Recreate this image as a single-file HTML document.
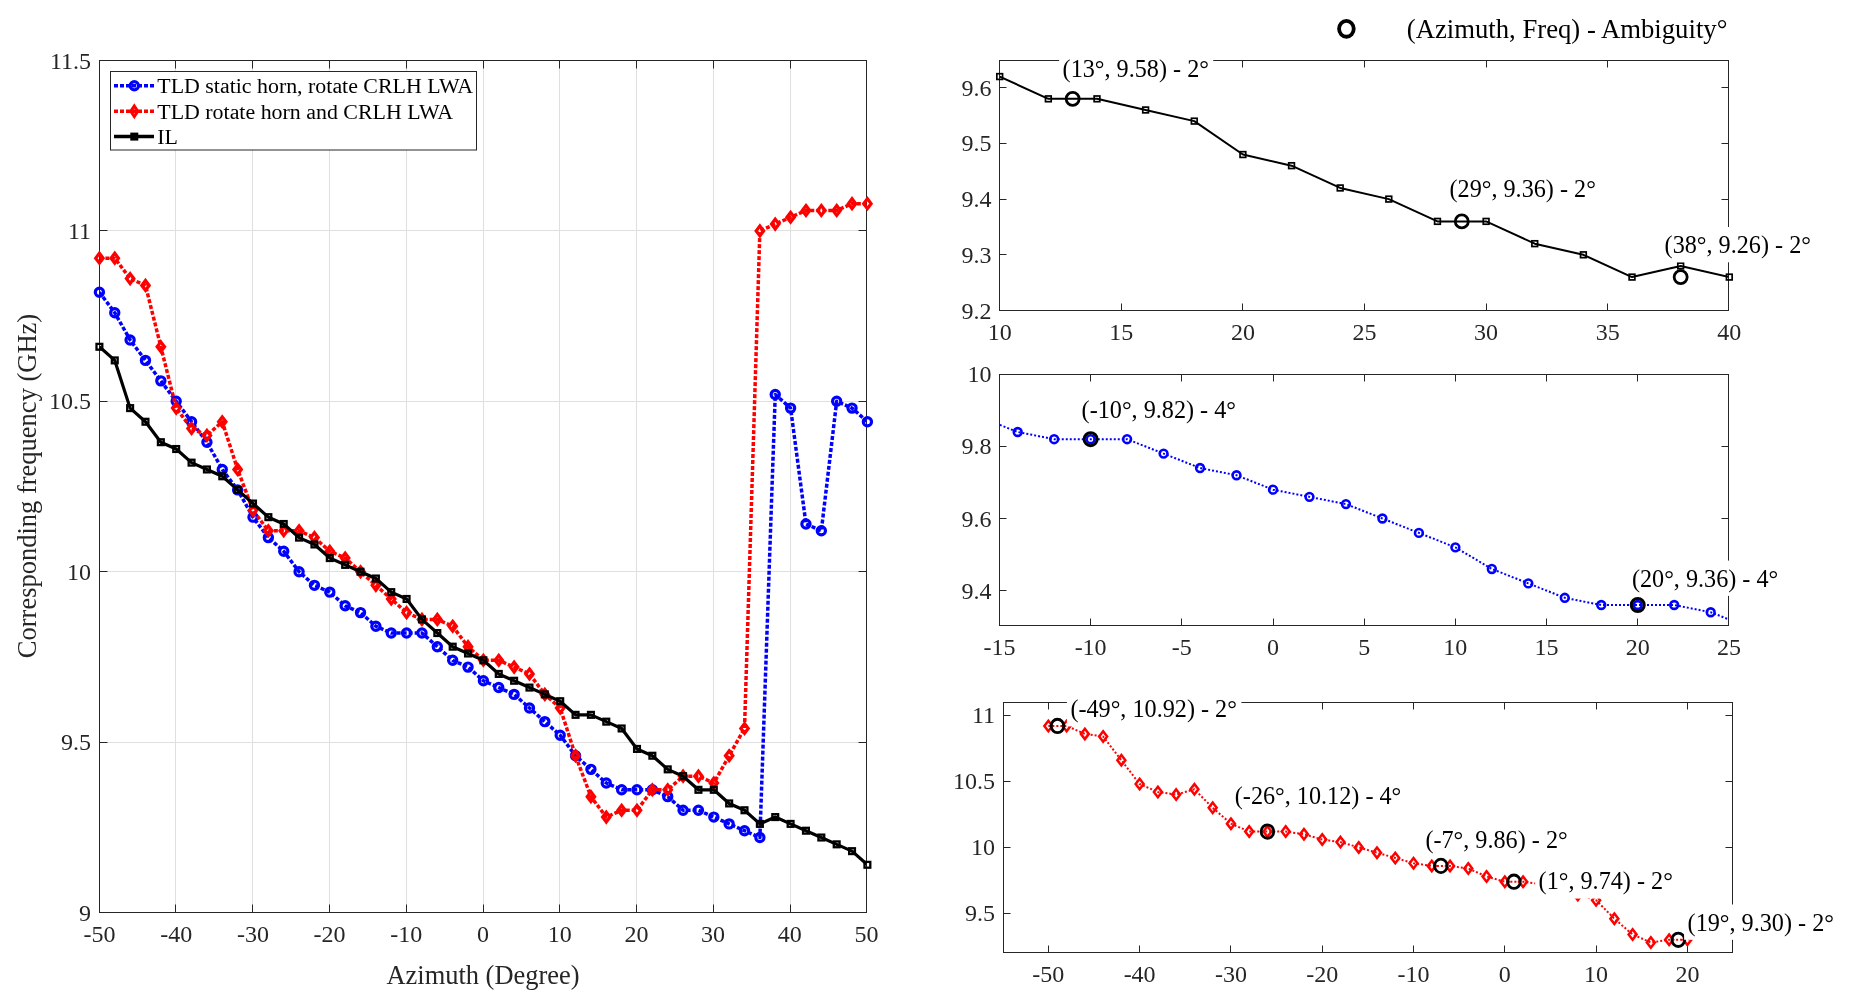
<!DOCTYPE html><html><head><meta charset="utf-8"><style>html,body{margin:0;padding:0;background:#fff;overflow:hidden}svg{display:block;will-change:transform}text{font-family:'Liberation Serif',serif}</style></head><body>
<svg width="1851" height="1008" viewBox="0 0 1851 1008">
<rect width="1851" height="1008" fill="#fff"/>
<defs><clipPath id="cm"><rect x="99.5" y="60.5" width="767.0" height="852.0"/></clipPath>
<clipPath id="ca"><rect x="999.5" y="60.5" width="729.0" height="250.0"/></clipPath>
<clipPath id="cb"><rect x="999.5" y="374.5" width="729.0" height="251.0"/></clipPath>
<clipPath id="cc"><rect x="1003.5" y="702.5" width="729.0" height="250.0"/></clipPath>
</defs>
<path d="M175.5 60.50V912.50M252.5 60.50V912.50M329.5 60.50V912.50M406.5 60.50V912.50M483.5 60.50V912.50M559.5 60.50V912.50M636.5 60.50V912.50M713.5 60.50V912.50M790.5 60.50V912.50M99.50 742.5H866.50M99.50 571.5H866.50M99.50 401.5H866.50M99.50 230.5H866.50" stroke="#dfdfdf" stroke-width="1" fill="none"/>
<path d="M99.50 912.50V904.50M99.50 60.50V68.50M175.50 912.50V904.50M175.50 60.50V68.50M252.50 912.50V904.50M252.50 60.50V68.50M329.50 912.50V904.50M329.50 60.50V68.50M406.50 912.50V904.50M406.50 60.50V68.50M483.50 912.50V904.50M483.50 60.50V68.50M559.50 912.50V904.50M559.50 60.50V68.50M636.50 912.50V904.50M636.50 60.50V68.50M713.50 912.50V904.50M713.50 60.50V68.50M790.50 912.50V904.50M790.50 60.50V68.50M866.50 912.50V904.50M866.50 60.50V68.50M99.50 912.50H107.50M866.50 912.50H858.50M99.50 742.50H107.50M866.50 742.50H858.50M99.50 571.50H107.50M866.50 571.50H858.50M99.50 401.50H107.50M866.50 401.50H858.50M99.50 230.50H107.50M866.50 230.50H858.50M99.50 60.50H107.50M866.50 60.50H858.50" stroke="#262626" stroke-width="1" fill="none"/>
<rect x="99.50" y="60.50" width="767.00" height="852.00" fill="none" stroke="#262626" stroke-width="1"/>
<polyline points="99.40,292.24 114.76,312.69 130.12,339.96 145.48,360.40 160.84,380.85 176.20,401.30 191.56,421.75 206.92,442.20 222.28,469.46 237.64,489.91 253.00,517.17 268.36,537.62 283.72,551.25 299.08,571.70 314.44,585.33 329.80,592.15 345.16,605.78 360.52,612.60 375.88,626.23 391.24,633.04 406.60,633.04 421.96,633.04 437.32,646.68 452.68,660.31 468.04,667.12 483.40,680.76 498.76,687.57 514.12,694.39 529.48,708.02 544.84,721.65 560.20,735.28 575.56,755.73 590.92,769.36 606.28,783.00 621.64,789.81 637.00,789.81 652.36,789.81 667.72,796.63 683.08,810.26 698.44,810.26 713.80,817.08 729.16,823.89 744.52,830.71 759.88,837.52 775.24,394.48 790.60,408.12 805.96,523.99 821.32,530.80 836.68,401.30 852.04,408.12 867.40,421.75" fill="none" stroke="#0000ff" stroke-width="3.5" stroke-linejoin="round" stroke-dasharray="4 2" clip-path="url(#cm)"/>
<g fill="none" stroke="#0000ff" stroke-width="3.2">
<circle cx="99.40" cy="292.24" r="4.1"/>
<circle cx="114.76" cy="312.69" r="4.1"/>
<circle cx="130.12" cy="339.96" r="4.1"/>
<circle cx="145.48" cy="360.40" r="4.1"/>
<circle cx="160.84" cy="380.85" r="4.1"/>
<circle cx="176.20" cy="401.30" r="4.1"/>
<circle cx="191.56" cy="421.75" r="4.1"/>
<circle cx="206.92" cy="442.20" r="4.1"/>
<circle cx="222.28" cy="469.46" r="4.1"/>
<circle cx="237.64" cy="489.91" r="4.1"/>
<circle cx="253.00" cy="517.17" r="4.1"/>
<circle cx="268.36" cy="537.62" r="4.1"/>
<circle cx="283.72" cy="551.25" r="4.1"/>
<circle cx="299.08" cy="571.70" r="4.1"/>
<circle cx="314.44" cy="585.33" r="4.1"/>
<circle cx="329.80" cy="592.15" r="4.1"/>
<circle cx="345.16" cy="605.78" r="4.1"/>
<circle cx="360.52" cy="612.60" r="4.1"/>
<circle cx="375.88" cy="626.23" r="4.1"/>
<circle cx="391.24" cy="633.04" r="4.1"/>
<circle cx="406.60" cy="633.04" r="4.1"/>
<circle cx="421.96" cy="633.04" r="4.1"/>
<circle cx="437.32" cy="646.68" r="4.1"/>
<circle cx="452.68" cy="660.31" r="4.1"/>
<circle cx="468.04" cy="667.12" r="4.1"/>
<circle cx="483.40" cy="680.76" r="4.1"/>
<circle cx="498.76" cy="687.57" r="4.1"/>
<circle cx="514.12" cy="694.39" r="4.1"/>
<circle cx="529.48" cy="708.02" r="4.1"/>
<circle cx="544.84" cy="721.65" r="4.1"/>
<circle cx="560.20" cy="735.28" r="4.1"/>
<circle cx="575.56" cy="755.73" r="4.1"/>
<circle cx="590.92" cy="769.36" r="4.1"/>
<circle cx="606.28" cy="783.00" r="4.1"/>
<circle cx="621.64" cy="789.81" r="4.1"/>
<circle cx="637.00" cy="789.81" r="4.1"/>
<circle cx="652.36" cy="789.81" r="4.1"/>
<circle cx="667.72" cy="796.63" r="4.1"/>
<circle cx="683.08" cy="810.26" r="4.1"/>
<circle cx="698.44" cy="810.26" r="4.1"/>
<circle cx="713.80" cy="817.08" r="4.1"/>
<circle cx="729.16" cy="823.89" r="4.1"/>
<circle cx="744.52" cy="830.71" r="4.1"/>
<circle cx="759.88" cy="837.52" r="4.1"/>
<circle cx="775.24" cy="394.48" r="4.1"/>
<circle cx="790.60" cy="408.12" r="4.1"/>
<circle cx="805.96" cy="523.99" r="4.1"/>
<circle cx="821.32" cy="530.80" r="4.1"/>
<circle cx="836.68" cy="401.30" r="4.1"/>
<circle cx="852.04" cy="408.12" r="4.1"/>
<circle cx="867.40" cy="421.75" r="4.1"/>
</g>
<polyline points="99.40,258.16 114.76,258.16 130.12,278.61 145.48,285.43 160.84,346.77 176.20,408.12 191.56,428.56 206.92,435.38 222.28,421.75 237.64,469.46 253.00,510.36 268.36,530.80 283.72,530.80 299.08,530.80 314.44,537.62 329.80,551.25 345.16,558.07 360.52,571.70 375.88,585.33 391.24,598.96 406.60,612.60 421.96,619.41 437.32,619.41 452.68,626.23 468.04,646.68 483.40,660.31 498.76,660.31 514.12,667.12 529.48,673.94 544.84,694.39 560.20,708.02 575.56,755.73 590.92,796.63 606.28,817.08 621.64,810.26 637.00,810.26 652.36,789.81 667.72,789.81 683.08,776.18 698.44,776.18 713.80,783.00 729.16,755.73 744.52,728.47 759.88,230.90 775.24,224.08 790.60,217.27 805.96,210.45 821.32,210.45 836.68,210.45 852.04,203.64 867.40,203.64" fill="none" stroke="#ff0000" stroke-width="3.5" stroke-linejoin="round" stroke-dasharray="4 2" clip-path="url(#cm)"/>
<g fill="none" stroke="#ff0000" stroke-width="3.2">
<path d="M99.40 253.26L103.10 258.16L99.40 263.06L95.70 258.16Z" stroke-linejoin="miter"/>
<path d="M114.76 253.26L118.46 258.16L114.76 263.06L111.06 258.16Z" stroke-linejoin="miter"/>
<path d="M130.12 273.71L133.82 278.61L130.12 283.51L126.42 278.61Z" stroke-linejoin="miter"/>
<path d="M145.48 280.53L149.18 285.43L145.48 290.33L141.78 285.43Z" stroke-linejoin="miter"/>
<path d="M160.84 341.87L164.54 346.77L160.84 351.67L157.14 346.77Z" stroke-linejoin="miter"/>
<path d="M176.20 403.22L179.90 408.12L176.20 413.02L172.50 408.12Z" stroke-linejoin="miter"/>
<path d="M191.56 423.66L195.26 428.56L191.56 433.46L187.86 428.56Z" stroke-linejoin="miter"/>
<path d="M206.92 430.48L210.62 435.38L206.92 440.28L203.22 435.38Z" stroke-linejoin="miter"/>
<path d="M222.28 416.85L225.98 421.75L222.28 426.65L218.58 421.75Z" stroke-linejoin="miter"/>
<path d="M237.64 464.56L241.34 469.46L237.64 474.36L233.94 469.46Z" stroke-linejoin="miter"/>
<path d="M253.00 505.46L256.70 510.36L253.00 515.26L249.30 510.36Z" stroke-linejoin="miter"/>
<path d="M268.36 525.90L272.06 530.80L268.36 535.70L264.66 530.80Z" stroke-linejoin="miter"/>
<path d="M283.72 525.90L287.42 530.80L283.72 535.70L280.02 530.80Z" stroke-linejoin="miter"/>
<path d="M299.08 525.90L302.78 530.80L299.08 535.70L295.38 530.80Z" stroke-linejoin="miter"/>
<path d="M314.44 532.72L318.14 537.62L314.44 542.52L310.74 537.62Z" stroke-linejoin="miter"/>
<path d="M329.80 546.35L333.50 551.25L329.80 556.15L326.10 551.25Z" stroke-linejoin="miter"/>
<path d="M345.16 553.17L348.86 558.07L345.16 562.97L341.46 558.07Z" stroke-linejoin="miter"/>
<path d="M360.52 566.80L364.22 571.70L360.52 576.60L356.82 571.70Z" stroke-linejoin="miter"/>
<path d="M375.88 580.43L379.58 585.33L375.88 590.23L372.18 585.33Z" stroke-linejoin="miter"/>
<path d="M391.24 594.06L394.94 598.96L391.24 603.86L387.54 598.96Z" stroke-linejoin="miter"/>
<path d="M406.60 607.70L410.30 612.60L406.60 617.50L402.90 612.60Z" stroke-linejoin="miter"/>
<path d="M421.96 614.51L425.66 619.41L421.96 624.31L418.26 619.41Z" stroke-linejoin="miter"/>
<path d="M437.32 614.51L441.02 619.41L437.32 624.31L433.62 619.41Z" stroke-linejoin="miter"/>
<path d="M452.68 621.33L456.38 626.23L452.68 631.13L448.98 626.23Z" stroke-linejoin="miter"/>
<path d="M468.04 641.78L471.74 646.68L468.04 651.58L464.34 646.68Z" stroke-linejoin="miter"/>
<path d="M483.40 655.41L487.10 660.31L483.40 665.21L479.70 660.31Z" stroke-linejoin="miter"/>
<path d="M498.76 655.41L502.46 660.31L498.76 665.21L495.06 660.31Z" stroke-linejoin="miter"/>
<path d="M514.12 662.22L517.82 667.12L514.12 672.02L510.42 667.12Z" stroke-linejoin="miter"/>
<path d="M529.48 669.04L533.18 673.94L529.48 678.84L525.78 673.94Z" stroke-linejoin="miter"/>
<path d="M544.84 689.49L548.54 694.39L544.84 699.29L541.14 694.39Z" stroke-linejoin="miter"/>
<path d="M560.20 703.12L563.90 708.02L560.20 712.92L556.50 708.02Z" stroke-linejoin="miter"/>
<path d="M575.56 750.83L579.26 755.73L575.56 760.63L571.86 755.73Z" stroke-linejoin="miter"/>
<path d="M590.92 791.73L594.62 796.63L590.92 801.53L587.22 796.63Z" stroke-linejoin="miter"/>
<path d="M606.28 812.18L609.98 817.08L606.28 821.98L602.58 817.08Z" stroke-linejoin="miter"/>
<path d="M621.64 805.36L625.34 810.26L621.64 815.16L617.94 810.26Z" stroke-linejoin="miter"/>
<path d="M637.00 805.36L640.70 810.26L637.00 815.16L633.30 810.26Z" stroke-linejoin="miter"/>
<path d="M652.36 784.91L656.06 789.81L652.36 794.71L648.66 789.81Z" stroke-linejoin="miter"/>
<path d="M667.72 784.91L671.42 789.81L667.72 794.71L664.02 789.81Z" stroke-linejoin="miter"/>
<path d="M683.08 771.28L686.78 776.18L683.08 781.08L679.38 776.18Z" stroke-linejoin="miter"/>
<path d="M698.44 771.28L702.14 776.18L698.44 781.08L694.74 776.18Z" stroke-linejoin="miter"/>
<path d="M713.80 778.10L717.50 783.00L713.80 787.90L710.10 783.00Z" stroke-linejoin="miter"/>
<path d="M729.16 750.83L732.86 755.73L729.16 760.63L725.46 755.73Z" stroke-linejoin="miter"/>
<path d="M744.52 723.57L748.22 728.47L744.52 733.37L740.82 728.47Z" stroke-linejoin="miter"/>
<path d="M759.88 226.00L763.58 230.90L759.88 235.80L756.18 230.90Z" stroke-linejoin="miter"/>
<path d="M775.24 219.18L778.94 224.08L775.24 228.98L771.54 224.08Z" stroke-linejoin="miter"/>
<path d="M790.60 212.37L794.30 217.27L790.60 222.17L786.90 217.27Z" stroke-linejoin="miter"/>
<path d="M805.96 205.55L809.66 210.45L805.96 215.35L802.26 210.45Z" stroke-linejoin="miter"/>
<path d="M821.32 205.55L825.02 210.45L821.32 215.35L817.62 210.45Z" stroke-linejoin="miter"/>
<path d="M836.68 205.55L840.38 210.45L836.68 215.35L832.98 210.45Z" stroke-linejoin="miter"/>
<path d="M852.04 198.74L855.74 203.64L852.04 208.54L848.34 203.64Z" stroke-linejoin="miter"/>
<path d="M867.40 198.74L871.10 203.64L867.40 208.54L863.70 203.64Z" stroke-linejoin="miter"/>
</g>
<polyline points="99.40,346.77 114.76,360.40 130.12,408.12 145.48,421.75 160.84,442.20 176.20,449.01 191.56,462.64 206.92,469.46 222.28,476.28 237.64,489.91 253.00,503.54 268.36,517.17 283.72,523.99 299.08,537.62 314.44,544.44 329.80,558.07 345.16,564.88 360.52,571.70 375.88,578.52 391.24,592.15 406.60,598.96 421.96,619.41 437.32,633.04 452.68,646.68 468.04,653.49 483.40,660.31 498.76,673.94 514.12,680.76 529.48,687.57 544.84,694.39 560.20,701.20 575.56,714.84 590.92,714.84 606.28,721.65 621.64,728.47 637.00,748.92 652.36,755.73 667.72,769.36 683.08,776.18 698.44,789.81 713.80,789.81 729.16,803.44 744.52,810.26 759.88,823.89 775.24,817.08 790.60,823.89 805.96,830.71 821.32,837.52 836.68,844.34 852.04,851.16 867.40,864.79" fill="none" stroke="#000" stroke-width="3.2" stroke-linejoin="round" clip-path="url(#cm)"/>
<g fill="none" stroke="#000" stroke-width="2.3">
<rect x="96.50" y="343.87" width="5.80" height="5.80"/>
<rect x="111.86" y="357.50" width="5.80" height="5.80"/>
<rect x="127.22" y="405.22" width="5.80" height="5.80"/>
<rect x="142.58" y="418.85" width="5.80" height="5.80"/>
<rect x="157.94" y="439.30" width="5.80" height="5.80"/>
<rect x="173.30" y="446.11" width="5.80" height="5.80"/>
<rect x="188.66" y="459.74" width="5.80" height="5.80"/>
<rect x="204.02" y="466.56" width="5.80" height="5.80"/>
<rect x="219.38" y="473.38" width="5.80" height="5.80"/>
<rect x="234.74" y="487.01" width="5.80" height="5.80"/>
<rect x="250.10" y="500.64" width="5.80" height="5.80"/>
<rect x="265.46" y="514.27" width="5.80" height="5.80"/>
<rect x="280.82" y="521.09" width="5.80" height="5.80"/>
<rect x="296.18" y="534.72" width="5.80" height="5.80"/>
<rect x="311.54" y="541.54" width="5.80" height="5.80"/>
<rect x="326.90" y="555.17" width="5.80" height="5.80"/>
<rect x="342.26" y="561.98" width="5.80" height="5.80"/>
<rect x="357.62" y="568.80" width="5.80" height="5.80"/>
<rect x="372.98" y="575.62" width="5.80" height="5.80"/>
<rect x="388.34" y="589.25" width="5.80" height="5.80"/>
<rect x="403.70" y="596.06" width="5.80" height="5.80"/>
<rect x="419.06" y="616.51" width="5.80" height="5.80"/>
<rect x="434.42" y="630.14" width="5.80" height="5.80"/>
<rect x="449.78" y="643.78" width="5.80" height="5.80"/>
<rect x="465.14" y="650.59" width="5.80" height="5.80"/>
<rect x="480.50" y="657.41" width="5.80" height="5.80"/>
<rect x="495.86" y="671.04" width="5.80" height="5.80"/>
<rect x="511.22" y="677.86" width="5.80" height="5.80"/>
<rect x="526.58" y="684.67" width="5.80" height="5.80"/>
<rect x="541.94" y="691.49" width="5.80" height="5.80"/>
<rect x="557.30" y="698.30" width="5.80" height="5.80"/>
<rect x="572.66" y="711.94" width="5.80" height="5.80"/>
<rect x="588.02" y="711.94" width="5.80" height="5.80"/>
<rect x="603.38" y="718.75" width="5.80" height="5.80"/>
<rect x="618.74" y="725.57" width="5.80" height="5.80"/>
<rect x="634.10" y="746.02" width="5.80" height="5.80"/>
<rect x="649.46" y="752.83" width="5.80" height="5.80"/>
<rect x="664.82" y="766.46" width="5.80" height="5.80"/>
<rect x="680.18" y="773.28" width="5.80" height="5.80"/>
<rect x="695.54" y="786.91" width="5.80" height="5.80"/>
<rect x="710.90" y="786.91" width="5.80" height="5.80"/>
<rect x="726.26" y="800.54" width="5.80" height="5.80"/>
<rect x="741.62" y="807.36" width="5.80" height="5.80"/>
<rect x="756.98" y="820.99" width="5.80" height="5.80"/>
<rect x="772.34" y="814.18" width="5.80" height="5.80"/>
<rect x="787.70" y="820.99" width="5.80" height="5.80"/>
<rect x="803.06" y="827.81" width="5.80" height="5.80"/>
<rect x="818.42" y="834.62" width="5.80" height="5.80"/>
<rect x="833.78" y="841.44" width="5.80" height="5.80"/>
<rect x="849.14" y="848.26" width="5.80" height="5.80"/>
<rect x="864.50" y="861.89" width="5.80" height="5.80"/>
</g>
<g fill="#262626" font-size="24">
<text x="99.50" y="942.00" text-anchor="middle">-50</text>
<text x="176.20" y="942.00" text-anchor="middle">-40</text>
<text x="252.90" y="942.00" text-anchor="middle">-30</text>
<text x="329.60" y="942.00" text-anchor="middle">-20</text>
<text x="406.30" y="942.00" text-anchor="middle">-10</text>
<text x="483.00" y="942.00" text-anchor="middle">0</text>
<text x="559.70" y="942.00" text-anchor="middle">10</text>
<text x="636.40" y="942.00" text-anchor="middle">20</text>
<text x="713.10" y="942.00" text-anchor="middle">30</text>
<text x="789.80" y="942.00" text-anchor="middle">40</text>
<text x="866.50" y="942.00" text-anchor="middle">50</text>
<text x="91.00" y="920.50" text-anchor="end">9</text>
<text x="91.00" y="750.10" text-anchor="end">9.5</text>
<text x="91.00" y="579.70" text-anchor="end">10</text>
<text x="91.00" y="409.30" text-anchor="end">10.5</text>
<text x="91.00" y="238.90" text-anchor="end">11</text>
<text x="91.00" y="68.50" text-anchor="end">11.5</text>
</g>
<rect x="110.5" y="71.5" width="366" height="78.5" fill="#fff" stroke="#262626" stroke-width="1"/>
<line x1="114" y1="85.7" x2="154" y2="85.7" stroke="#0000ff" stroke-width="3.5" stroke-dasharray="4 2"/>
<circle cx="134.3" cy="85.7" r="4.1" fill="none" stroke="#0000ff" stroke-width="3.2"/>
<line x1="114" y1="111.3" x2="154" y2="111.3" stroke="#ff0000" stroke-width="3.5" stroke-dasharray="4 2"/>
<path d="M134.3 106.0L137.8 111.3L134.3 116.6L130.8 111.3Z" fill="none" stroke="#ff0000" stroke-width="3"/>
<line x1="114" y1="136.6" x2="154" y2="136.6" stroke="#000" stroke-width="3.5"/>
<rect x="131.70000000000002" y="134.0" width="5.2" height="5.2" fill="none" stroke="#000" stroke-width="2.8"/>
<text x="157.30" y="93.00" font-size="21.9" text-anchor="start" fill="#000">TLD static horn, rotate CRLH LWA</text>
<text x="157.30" y="118.60" font-size="21.9" text-anchor="start" fill="#000">TLD rotate horn and CRLH LWA</text>
<text x="157.30" y="143.90" font-size="21.9" text-anchor="start" fill="#000">IL</text>
<text x="483.00" y="984.00" font-size="26.45" text-anchor="middle" fill="#262626">Azimuth (Degree)</text>
<text x="0" y="0" font-size="26.5" text-anchor="middle" fill="#262626" transform="translate(36 486) rotate(-90)">Corresponding frequency (GHz)</text>
<path d="M999.50 310.50V303.50M999.50 60.50V67.50M1121.50 310.50V303.50M1121.50 60.50V67.50M1242.50 310.50V303.50M1242.50 60.50V67.50M1364.50 310.50V303.50M1364.50 60.50V67.50M1486.50 310.50V303.50M1486.50 60.50V67.50M1607.50 310.50V303.50M1607.50 60.50V67.50M1728.50 310.50V303.50M1728.50 60.50V67.50M999.50 310.50H1006.50M1728.50 310.50H1721.50M999.50 254.50H1006.50M1728.50 254.50H1721.50M999.50 199.50H1006.50M1728.50 199.50H1721.50M999.50 143.50H1006.50M1728.50 143.50H1721.50M999.50 87.50H1006.50M1728.50 87.50H1721.50" stroke="#262626" stroke-width="1" fill="none"/>
<rect x="999.50" y="60.50" width="729.00" height="250.00" fill="none" stroke="#262626" stroke-width="1"/>
<polyline points="999.70,76.56 1048.34,98.84 1096.98,98.84 1145.62,109.98 1194.26,121.12 1242.90,154.54 1291.54,165.68 1340.18,187.96 1388.82,199.10 1437.46,221.38 1486.10,221.38 1534.74,243.66 1583.38,254.80 1632.02,277.08 1680.66,265.94 1729.30,277.08" fill="none" stroke="#000" stroke-width="2" stroke-linejoin="round" clip-path="url(#ca)"/>
<g fill="none" stroke="#000" stroke-width="1.7">
<rect x="996.85" y="73.71" width="5.70" height="5.70"/>
<rect x="1045.49" y="95.99" width="5.70" height="5.70"/>
<rect x="1094.13" y="95.99" width="5.70" height="5.70"/>
<rect x="1142.77" y="107.13" width="5.70" height="5.70"/>
<rect x="1191.41" y="118.27" width="5.70" height="5.70"/>
<rect x="1240.05" y="151.69" width="5.70" height="5.70"/>
<rect x="1288.69" y="162.83" width="5.70" height="5.70"/>
<rect x="1337.33" y="185.11" width="5.70" height="5.70"/>
<rect x="1385.97" y="196.25" width="5.70" height="5.70"/>
<rect x="1434.61" y="218.53" width="5.70" height="5.70"/>
<rect x="1483.25" y="218.53" width="5.70" height="5.70"/>
<rect x="1531.89" y="240.81" width="5.70" height="5.70"/>
<rect x="1580.53" y="251.95" width="5.70" height="5.70"/>
<rect x="1629.17" y="274.23" width="5.70" height="5.70"/>
<rect x="1677.81" y="263.09" width="5.70" height="5.70"/>
<rect x="1726.45" y="274.23" width="5.70" height="5.70"/>
</g>
<circle cx="1072.66" cy="98.84" r="6.5" fill="none" stroke="#000" stroke-width="2.8"/>
<circle cx="1461.78" cy="221.38" r="6.5" fill="none" stroke="#000" stroke-width="2.8"/>
<circle cx="1680.66" cy="277.08" r="6.5" fill="none" stroke="#000" stroke-width="2.8"/>
<g fill="#262626" font-size="24">
<text x="999.70" y="339.50" text-anchor="middle">10</text>
<text x="1121.30" y="339.50" text-anchor="middle">15</text>
<text x="1242.90" y="339.50" text-anchor="middle">20</text>
<text x="1364.50" y="339.50" text-anchor="middle">25</text>
<text x="1486.10" y="339.50" text-anchor="middle">30</text>
<text x="1607.70" y="339.50" text-anchor="middle">35</text>
<text x="1729.30" y="339.50" text-anchor="middle">40</text>
<text x="991.50" y="318.50" text-anchor="end">9.2</text>
<text x="991.50" y="262.80" text-anchor="end">9.3</text>
<text x="991.50" y="207.10" text-anchor="end">9.4</text>
<text x="991.50" y="151.40" text-anchor="end">9.5</text>
<text x="991.50" y="95.70" text-anchor="end">9.6</text>
</g>
<path d="M999.50 625.50V618.50M999.50 374.50V381.50M1090.50 625.50V618.50M1090.50 374.50V381.50M1181.50 625.50V618.50M1181.50 374.50V381.50M1273.50 625.50V618.50M1273.50 374.50V381.50M1364.50 625.50V618.50M1364.50 374.50V381.50M1455.50 625.50V618.50M1455.50 374.50V381.50M1546.50 625.50V618.50M1546.50 374.50V381.50M1637.50 625.50V618.50M1637.50 374.50V381.50M1728.50 625.50V618.50M1728.50 374.50V381.50M999.50 590.50H1006.50M1728.50 590.50H1721.50M999.50 518.50H1006.50M1728.50 518.50H1721.50M999.50 446.50H1006.50M1728.50 446.50H1721.50M999.50 374.50H1006.50M1728.50 374.50H1721.50" stroke="#262626" stroke-width="1" fill="none"/>
<rect x="999.50" y="374.50" width="729.00" height="251.00" fill="none" stroke="#262626" stroke-width="1"/>
<polyline points="981.21,417.56 1017.68,431.98 1054.16,439.19 1090.63,439.19 1127.10,439.19 1163.58,453.61 1200.05,468.03 1236.53,475.24 1273.00,489.66 1309.47,496.87 1345.95,504.08 1382.42,518.50 1418.90,532.92 1455.37,547.34 1491.84,568.97 1528.32,583.39 1564.79,597.81 1601.27,605.02 1637.74,605.02 1674.21,605.02 1710.69,612.23 1747.16,626.65" fill="none" stroke="#0000ff" stroke-width="2" stroke-linejoin="round" stroke-dasharray="2 2" clip-path="url(#cb)"/>
<g fill="none" stroke="#0000ff" stroke-width="2.6">
<circle cx="1017.68" cy="431.98" r="3.9"/>
<circle cx="1054.16" cy="439.19" r="3.9"/>
<circle cx="1090.63" cy="439.19" r="3.9"/>
<circle cx="1127.10" cy="439.19" r="3.9"/>
<circle cx="1163.58" cy="453.61" r="3.9"/>
<circle cx="1200.05" cy="468.03" r="3.9"/>
<circle cx="1236.53" cy="475.24" r="3.9"/>
<circle cx="1273.00" cy="489.66" r="3.9"/>
<circle cx="1309.47" cy="496.87" r="3.9"/>
<circle cx="1345.95" cy="504.08" r="3.9"/>
<circle cx="1382.42" cy="518.50" r="3.9"/>
<circle cx="1418.90" cy="532.92" r="3.9"/>
<circle cx="1455.37" cy="547.34" r="3.9"/>
<circle cx="1491.84" cy="568.97" r="3.9"/>
<circle cx="1528.32" cy="583.39" r="3.9"/>
<circle cx="1564.79" cy="597.81" r="3.9"/>
<circle cx="1601.27" cy="605.02" r="3.9"/>
<circle cx="1637.74" cy="605.02" r="3.9"/>
<circle cx="1674.21" cy="605.02" r="3.9"/>
<circle cx="1710.69" cy="612.23" r="3.9"/>
</g>
<circle cx="1090.63" cy="439.19" r="6.5" fill="none" stroke="#000" stroke-width="3.0"/>
<circle cx="1637.74" cy="605.02" r="6.5" fill="none" stroke="#000" stroke-width="3.0"/>
<g fill="#262626" font-size="24">
<text x="999.45" y="654.50" text-anchor="middle">-15</text>
<text x="1090.63" y="654.50" text-anchor="middle">-10</text>
<text x="1181.82" y="654.50" text-anchor="middle">-5</text>
<text x="1273.00" y="654.50" text-anchor="middle">0</text>
<text x="1364.18" y="654.50" text-anchor="middle">5</text>
<text x="1455.37" y="654.50" text-anchor="middle">10</text>
<text x="1546.55" y="654.50" text-anchor="middle">15</text>
<text x="1637.74" y="654.50" text-anchor="middle">20</text>
<text x="1728.92" y="654.50" text-anchor="middle">25</text>
<text x="991.50" y="598.60" text-anchor="end">9.4</text>
<text x="991.50" y="526.50" text-anchor="end">9.6</text>
<text x="991.50" y="454.40" text-anchor="end">9.8</text>
<text x="991.50" y="382.30" text-anchor="end">10</text>
</g>
<path d="M1048.50 952.50V945.50M1048.50 702.50V709.50M1139.50 952.50V945.50M1139.50 702.50V709.50M1230.50 952.50V945.50M1230.50 702.50V709.50M1322.50 952.50V945.50M1322.50 702.50V709.50M1413.50 952.50V945.50M1413.50 702.50V709.50M1504.50 952.50V945.50M1504.50 702.50V709.50M1596.50 952.50V945.50M1596.50 702.50V709.50M1687.50 952.50V945.50M1687.50 702.50V709.50M1003.50 913.50H1010.50M1732.50 913.50H1725.50M1003.50 847.50H1010.50M1732.50 847.50H1725.50M1003.50 781.50H1010.50M1732.50 781.50H1725.50M1003.50 715.50H1010.50M1732.50 715.50H1725.50" stroke="#262626" stroke-width="1" fill="none"/>
<rect x="1003.50" y="702.50" width="729.00" height="250.00" fill="none" stroke="#262626" stroke-width="1"/>
<polyline points="1048.35,725.96 1066.61,725.96 1084.87,733.88 1103.12,736.52 1121.38,760.28 1139.64,784.04 1157.90,791.96 1176.16,794.60 1194.41,789.32 1212.67,807.80 1230.93,823.64 1249.19,831.56 1267.45,831.56 1285.70,831.56 1303.96,834.20 1322.22,839.48 1340.48,842.12 1358.74,847.40 1376.99,852.68 1395.25,857.96 1413.51,863.24 1431.77,865.88 1450.03,865.88 1468.28,868.52 1486.54,876.44 1504.80,881.72 1523.06,881.72 1541.32,884.36 1559.57,887.00 1577.83,894.92 1596.09,900.20 1614.35,918.68 1632.61,934.52 1650.86,942.44 1669.12,939.80 1687.38,939.80 1705.64,931.88 1723.90,931.88 1742.15,926.60" fill="none" stroke="#ff0000" stroke-width="2" stroke-linejoin="round" stroke-dasharray="2 2" clip-path="url(#cc)"/>
<g fill="none" stroke="#ff0000" stroke-width="2.5">
<path d="M1048.35 720.76L1052.35 725.96L1048.35 731.16L1044.35 725.96Z" stroke-linejoin="miter"/>
<path d="M1066.61 720.76L1070.61 725.96L1066.61 731.16L1062.61 725.96Z" stroke-linejoin="miter"/>
<path d="M1084.87 728.68L1088.87 733.88L1084.87 739.08L1080.87 733.88Z" stroke-linejoin="miter"/>
<path d="M1103.12 731.32L1107.12 736.52L1103.12 741.72L1099.12 736.52Z" stroke-linejoin="miter"/>
<path d="M1121.38 755.08L1125.38 760.28L1121.38 765.48L1117.38 760.28Z" stroke-linejoin="miter"/>
<path d="M1139.64 778.84L1143.64 784.04L1139.64 789.24L1135.64 784.04Z" stroke-linejoin="miter"/>
<path d="M1157.90 786.76L1161.90 791.96L1157.90 797.16L1153.90 791.96Z" stroke-linejoin="miter"/>
<path d="M1176.16 789.40L1180.16 794.60L1176.16 799.80L1172.16 794.60Z" stroke-linejoin="miter"/>
<path d="M1194.41 784.12L1198.41 789.32L1194.41 794.52L1190.41 789.32Z" stroke-linejoin="miter"/>
<path d="M1212.67 802.60L1216.67 807.80L1212.67 813.00L1208.67 807.80Z" stroke-linejoin="miter"/>
<path d="M1230.93 818.44L1234.93 823.64L1230.93 828.84L1226.93 823.64Z" stroke-linejoin="miter"/>
<path d="M1249.19 826.36L1253.19 831.56L1249.19 836.76L1245.19 831.56Z" stroke-linejoin="miter"/>
<path d="M1267.45 826.36L1271.45 831.56L1267.45 836.76L1263.45 831.56Z" stroke-linejoin="miter"/>
<path d="M1285.70 826.36L1289.70 831.56L1285.70 836.76L1281.70 831.56Z" stroke-linejoin="miter"/>
<path d="M1303.96 829.00L1307.96 834.20L1303.96 839.40L1299.96 834.20Z" stroke-linejoin="miter"/>
<path d="M1322.22 834.28L1326.22 839.48L1322.22 844.68L1318.22 839.48Z" stroke-linejoin="miter"/>
<path d="M1340.48 836.92L1344.48 842.12L1340.48 847.32L1336.48 842.12Z" stroke-linejoin="miter"/>
<path d="M1358.74 842.20L1362.74 847.40L1358.74 852.60L1354.74 847.40Z" stroke-linejoin="miter"/>
<path d="M1376.99 847.48L1380.99 852.68L1376.99 857.88L1372.99 852.68Z" stroke-linejoin="miter"/>
<path d="M1395.25 852.76L1399.25 857.96L1395.25 863.16L1391.25 857.96Z" stroke-linejoin="miter"/>
<path d="M1413.51 858.04L1417.51 863.24L1413.51 868.44L1409.51 863.24Z" stroke-linejoin="miter"/>
<path d="M1431.77 860.68L1435.77 865.88L1431.77 871.08L1427.77 865.88Z" stroke-linejoin="miter"/>
<path d="M1450.03 860.68L1454.03 865.88L1450.03 871.08L1446.03 865.88Z" stroke-linejoin="miter"/>
<path d="M1468.28 863.32L1472.28 868.52L1468.28 873.72L1464.28 868.52Z" stroke-linejoin="miter"/>
<path d="M1486.54 871.24L1490.54 876.44L1486.54 881.64L1482.54 876.44Z" stroke-linejoin="miter"/>
<path d="M1504.80 876.52L1508.80 881.72L1504.80 886.92L1500.80 881.72Z" stroke-linejoin="miter"/>
<path d="M1523.06 876.52L1527.06 881.72L1523.06 886.92L1519.06 881.72Z" stroke-linejoin="miter"/>
<path d="M1541.32 879.16L1545.32 884.36L1541.32 889.56L1537.32 884.36Z" stroke-linejoin="miter"/>
<path d="M1559.57 881.80L1563.57 887.00L1559.57 892.20L1555.57 887.00Z" stroke-linejoin="miter"/>
<path d="M1577.83 889.72L1581.83 894.92L1577.83 900.12L1573.83 894.92Z" stroke-linejoin="miter"/>
<path d="M1596.09 895.00L1600.09 900.20L1596.09 905.40L1592.09 900.20Z" stroke-linejoin="miter"/>
<path d="M1614.35 913.48L1618.35 918.68L1614.35 923.88L1610.35 918.68Z" stroke-linejoin="miter"/>
<path d="M1632.61 929.32L1636.61 934.52L1632.61 939.72L1628.61 934.52Z" stroke-linejoin="miter"/>
<path d="M1650.86 937.24L1654.86 942.44L1650.86 947.64L1646.86 942.44Z" stroke-linejoin="miter"/>
<path d="M1669.12 934.60L1673.12 939.80L1669.12 945.00L1665.12 939.80Z" stroke-linejoin="miter"/>
<path d="M1687.38 934.60L1691.38 939.80L1687.38 945.00L1683.38 939.80Z" stroke-linejoin="miter"/>
<path d="M1705.64 926.68L1709.64 931.88L1705.64 937.08L1701.64 931.88Z" stroke-linejoin="miter"/>
<path d="M1723.90 926.68L1727.90 931.88L1723.90 937.08L1719.90 931.88Z" stroke-linejoin="miter"/>
</g>
<ellipse cx="1057.48" cy="725.96" rx="6.3" ry="6.7" fill="none" stroke="#000" stroke-width="2.8"/>
<ellipse cx="1267.45" cy="831.56" rx="6.3" ry="6.7" fill="none" stroke="#000" stroke-width="2.8"/>
<ellipse cx="1440.90" cy="865.88" rx="6.3" ry="6.7" fill="none" stroke="#000" stroke-width="2.8"/>
<ellipse cx="1513.93" cy="881.72" rx="6.3" ry="6.7" fill="none" stroke="#000" stroke-width="2.8"/>
<ellipse cx="1678.25" cy="939.80" rx="6.3" ry="6.7" fill="none" stroke="#000" stroke-width="2.8"/>
<g fill="#262626" font-size="24">
<text x="1048.35" y="981.50" text-anchor="middle">-50</text>
<text x="1139.64" y="981.50" text-anchor="middle">-40</text>
<text x="1230.93" y="981.50" text-anchor="middle">-30</text>
<text x="1322.22" y="981.50" text-anchor="middle">-20</text>
<text x="1413.51" y="981.50" text-anchor="middle">-10</text>
<text x="1504.80" y="981.50" text-anchor="middle">0</text>
<text x="1596.09" y="981.50" text-anchor="middle">10</text>
<text x="1687.38" y="981.50" text-anchor="middle">20</text>
<text x="995.00" y="921.40" text-anchor="end">9.5</text>
<text x="995.00" y="855.40" text-anchor="end">10</text>
<text x="995.00" y="789.40" text-anchor="end">10.5</text>
<text x="995.00" y="723.40" text-anchor="end">11</text>
</g>
<rect x="1059.10" y="51.00" width="154.10" height="35.3" fill="#fff"/>
<text x="1062.60" y="77.00" font-size="24.2" text-anchor="start" fill="#000">(13°, 9.58) - 2°</text>
<rect x="1446.00" y="171.00" width="154.50" height="35.3" fill="#fff"/>
<text x="1449.50" y="197.00" font-size="24.2" text-anchor="start" fill="#000">(29°, 9.36) - 2°</text>
<rect x="1661.10" y="227.00" width="154.40" height="35.3" fill="#fff"/>
<text x="1664.60" y="253.00" font-size="24.2" text-anchor="start" fill="#000">(38°, 9.26) - 2°</text>
<rect x="1078.10" y="392.20" width="162.30" height="35.3" fill="#fff"/>
<text x="1081.60" y="418.20" font-size="24.2" text-anchor="start" fill="#000">(-10°, 9.82) - 4°</text>
<rect x="1628.40" y="560.60" width="154.20" height="35.3" fill="#fff"/>
<text x="1631.90" y="586.60" font-size="24.2" text-anchor="start" fill="#000">(20°, 9.36) - 4°</text>
<rect x="1066.90" y="691.10" width="174.50" height="35.3" fill="#fff"/>
<text x="1070.40" y="717.10" font-size="24.2" text-anchor="start" fill="#000">(-49°, 10.92) - 2°</text>
<rect x="1231.30" y="778.00" width="174.30" height="35.3" fill="#fff"/>
<text x="1234.80" y="804.00" font-size="24.2" text-anchor="start" fill="#000">(-26°, 10.12) - 4°</text>
<rect x="1421.90" y="822.10" width="150.70" height="35.3" fill="#fff"/>
<text x="1425.40" y="848.10" font-size="24.2" text-anchor="start" fill="#000">(-7°, 9.86) - 2°</text>
<rect x="1535.10" y="863.30" width="142.60" height="35.3" fill="#fff"/>
<text x="1538.60" y="889.30" font-size="24.2" text-anchor="start" fill="#000">(1°, 9.74) - 2°</text>
<rect x="1684.10" y="904.50" width="154.50" height="35.3" fill="#fff"/>
<text x="1687.60" y="930.50" font-size="24.2" text-anchor="start" fill="#000">(19°, 9.30) - 2°</text>
<ellipse cx="1346.4" cy="28.8" rx="7.35" ry="7.95" fill="none" stroke="#000" stroke-width="3.8"/>
<text x="1406.80" y="38.20" font-size="26.7" text-anchor="start" fill="#000">(Azimuth, Freq) - Ambiguity°</text>
</svg></body></html>
